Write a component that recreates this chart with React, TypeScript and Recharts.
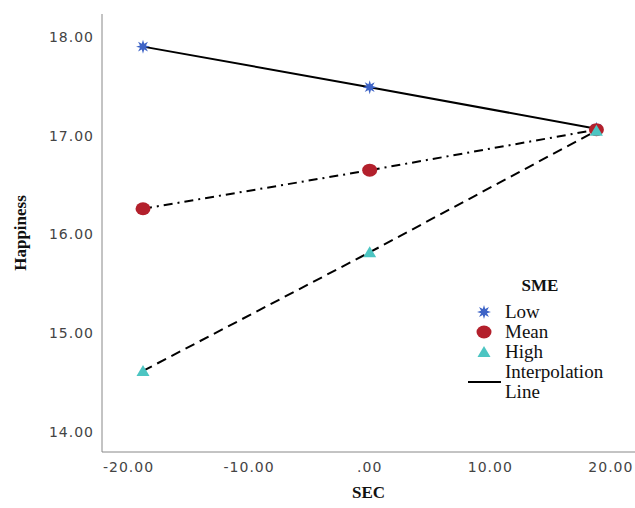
import React from "react";
import {
  LineChart,
  Line,
  XAxis,
  YAxis,
  Legend,
} from "recharts";

// values
const secValues = [-18.8, 0, 18.8];
const lowValues = [17.9, 17.49, 17.07];
const meanValues = [16.26, 16.65, 17.06];
const highValues = [14.62, 15.82, 17.05];
const xTicks = [-20, -10, 0, 10, 20];
const yTicks = [14, 15, 16, 17, 18];

const STAR = "#3d63c6";
const CIRCLE = "#b3202c";
const TRIANGLE = "#4cc5c2";
const serif = "Liberation Serif, Times New Roman, serif";

const fmt = (v: number) => (v === 0 ? ".00" : v.toFixed(2));

function starPoints(cx: number, cy: number, ro: number, ri: number) {
  const pts: string[] = [];
  for (let i = 0; i < 16; i++) {
    const r = i % 2 === 0 ? ro : ri;
    const a = (Math.PI / 8) * i - Math.PI / 2;
    pts.push(`${cx + r * Math.cos(a)},${cy + r * Math.sin(a)}`);
  }
  return pts.join(" ");
}

const StarDot = (props: any) => {
  const { cx, cy, index } = props;
  return <polygon key={`s${index}`} points={starPoints(cx, cy, 7, 3.2)} fill={STAR} />;
};

const CircleDot = (props: any) => {
  const { cx, cy, index } = props;
  return <ellipse key={`c${index}`} cx={cx} cy={cy} rx={7.5} ry={6.5} fill={CIRCLE} />;
};

const TriangleDot = (props: any) => {
  const { cx, cy, index } = props;
  return (
    <polygon
      key={`t${index}`}
      points={`${cx},${cy - 6} ${cx - 6.5},${cy + 5} ${cx + 6.5},${cy + 5}`}
      fill={TRIANGLE}
    />
  );
};

const legendItems = [
  { name: "Low", icon: <polygon points={starPoints(10, 10, 7, 3.2)} fill={STAR} /> },
  { name: "Mean", icon: <ellipse cx={10} cy={10} rx={7.5} ry={6.5} fill={CIRCLE} /> },
  { name: "High", icon: <polygon points="10,4 3.5,15 16.5,15" fill={TRIANGLE} /> },
];

const textStyle: React.CSSProperties = { fontFamily: serif, fontSize: 19, color: "#111" };

function SmeLegend() {
  return (
    <div style={{ ...textStyle, lineHeight: "20px" }}>
      <div style={{ ...textStyle, fontWeight: "bold", fontSize: 17, textAlign: "center", width: 150, marginBottom: 6 }}>
        SME
      </div>
      {legendItems.map((it) => (
        <div key={it.name} style={{ display: "flex", alignItems: "center", height: 20 }}>
          <svg width={40} height={20} style={{ display: "block" }}>
            <g transform="translate(9,0)">{it.icon}</g>
          </svg>
          <span style={textStyle}>{it.name}</span>
        </div>
      ))}
      <div style={{ display: "flex", alignItems: "center" }}>
        <svg width={40} height={40} style={{ display: "block" }}>
          <line x1={3} x2={36} y1={20} y2={20} stroke="#000" strokeWidth={2} />
        </svg>
        <span style={textStyle}>
          Interpolation
          <br />
          Line
        </span>
      </div>
    </div>
  );
}

export default function App() {
  const data = secValues.map((sec, i) => ({
    sec,
    low: lowValues[i],
    mean: meanValues[i],
    high: highValues[i],
  }));

  const tickStyle = { fill: "#444", fontSize: 14, fontFamily: "DejaVu Sans, sans-serif", letterSpacing: 1 };

  return (
    <div style={{ position: "absolute", left: 0, top: 0, width: 635, height: 508, background: "#fff" }}>
      <LineChart
        width={635}
        height={508}
        data={data}
        margin={{ top: 14, right: 0, left: 0, bottom: 0 }}
      >
        <XAxis
          dataKey="sec"
          type="number"
          domain={[-22.2, 22]}
          ticks={xTicks}
          tickFormatter={fmt}
          height={56}
          stroke="#888"
          tickLine={false}
          tickSize={8}
          tick={tickStyle}
          label={{
            value: "SEC",
            position: "insideBottom",
            offset: 10,
            style: { fontFamily: serif, fontWeight: "bold", fontSize: 17, fill: "#111" },
          }}
        />
        <YAxis
          type="number"
          domain={[13.8, 18.23]}
          ticks={yTicks}
          tickFormatter={fmt}
          width={102}
          stroke="#888"
          tickLine={false}
          tickSize={6}
          tick={tickStyle}
          label={{
            value: "Happiness",
            angle: -90,
            position: "insideLeft",
            offset: 20,
            style: { textAnchor: "middle", fontFamily: serif, fontWeight: "bold", fontSize: 17, fill: "#111" },
          }}
        />
        <Legend
          layout="vertical"
          align="center"
          verticalAlign="middle"
          content={() => <SmeLegend />}
          wrapperStyle={{ left: 465, top: 276, width: 160 }}
        />
        <Line
          dataKey="low"
          stroke="#000"
          strokeWidth={2}
          dot={StarDot}
          activeDot={false}
          isAnimationActive={false}
        />
        <Line
          dataKey="mean"
          stroke="#000"
          strokeWidth={2}
          strokeDasharray="9 5 2 5"
          dot={CircleDot}
          activeDot={false}
          isAnimationActive={false}
        />
        <Line
          dataKey="high"
          stroke="#000"
          strokeWidth={2}
          strokeDasharray="10 6"
          dot={TriangleDot}
          activeDot={false}
          isAnimationActive={false}
        />
      </LineChart>
    </div>
  );
}
